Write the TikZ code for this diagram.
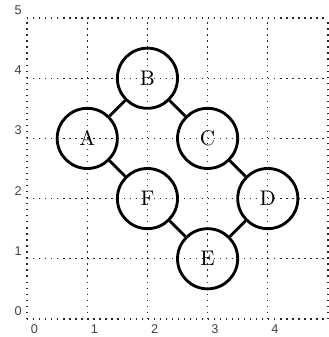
\documentclass[tikz,border=0pt]{standalone}
\usepackage{fontspec}
\newfontfamily\labfont{Liberation Sans}
\begin{document}
\begin{tikzpicture}[x=1cm,y=1cm,
  gridline/.style={line width=0.6pt, dash pattern=on 0.6pt off 2.25pt, black!85},
  vertex/.style={circle, draw, line width=1.35pt, minimum size=1.0cm, inner sep=0pt, font=\fontsize{10}{12}\selectfont},
  edge/.style={line width=1.35pt},
  ticklab/.style={font=\labfont\fontsize{6}{7}\selectfont, inner sep=0pt, text=black!75}]
\useasboundingbox (-0.45,-0.3) rectangle (5.017,5.3);
\foreach \i in {0,...,5} {
  \draw[gridline] (\i,0) -- (\i,5);
  \draw[gridline] (0,\i) -- (5,\i);
}
\foreach \i in {0,...,4} {
  \node[ticklab] (xl\i) at (\i+0.12,-0.17) {\i};
}
\foreach \i in {0,...,5} {
  \node[ticklab] (yl\i) at (-0.15,\i+0.13) {\i};
}
\node[vertex] (A) at (1,3) {A};
\node[vertex] (B) at (2,4) {B};
\node[vertex] (C) at (3,3) {C};
\node[vertex] (D) at (4,2) {D};
\node[vertex] (E) at (3,1) {E};
\node[vertex] (F) at (2,2) {F};
\draw[edge] (A) -- (B);
\draw[edge] (B) -- (C);
\draw[edge] (A) -- (F);
\draw[edge] (C) -- (D);
\draw[edge] (F) -- (E);
\draw[edge] (E) -- (D);
\end{tikzpicture}
\end{document}
